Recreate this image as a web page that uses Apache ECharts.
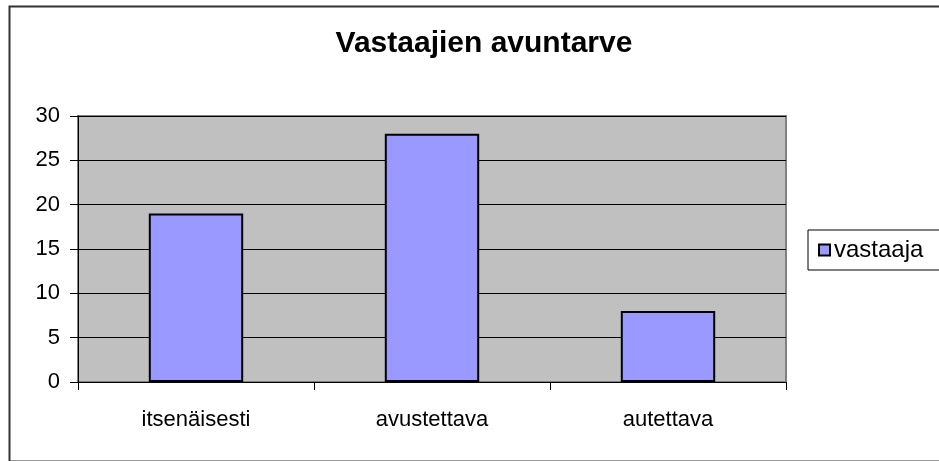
<!DOCTYPE html>
<html>
<head>
<meta charset="utf-8">
<script src="https://cdn.jsdelivr.net/npm/echarts@6/dist/echarts.min.js"></script>
<style>
  html, body { margin: 0; padding: 0; background: #fff; }
  #chart { width: 939px; height: 461px; }
</style>
</head>
<body>
<div id="chart"></div>
<script>
var categories = ['itsenäisesti', 'avustettava', 'autettava'];
var values = [19, 28, 8];
var seriesName = 'vastaaja';
var yTicks = { min: 0, max: 30, interval: 5 };

var myChart = echarts.init(document.getElementById('chart'));
myChart.setOption({
    backgroundColor: '#fff',
    animation: false,
    title: {
        text: 'Vastaajien avuntarve',
        left: 479,
        top: 24,
        textAlign: 'center',
        textStyle: {
            fontFamily: 'Liberation Sans',
            fontWeight: 'bold',
            fontSize: 30,
            color: '#000'
        }
    },
    graphic: {
        elements: [{
            type: 'rect',
            left: 7,
            top: 4,
            shape: { width: 945, height: 455 },
            style: { fill: 'none', stroke: '#333', lineWidth: 2 },
            silent: true
        }]
    },
    legend: {
        left: 808,
        top: 230,
        orient: 'vertical',
        data: [seriesName],
        icon: 'rect',
        itemWidth: 11,
        itemHeight: 11,
        itemGap: 6,
        padding: [8, 40, 8, 10],
        borderColor: '#000',
        borderWidth: 1,
        backgroundColor: '#fff',
        itemStyle: { borderColor: '#000', borderWidth: 2 },
        textStyle: { fontFamily: 'Liberation Sans', fontSize: 24, color: '#000', padding: [0, 0, 0, -1] }
    },
    grid: {
        left: 78,
        right: 153,
        top: 116,
        bottom: 79,
        show: true,
        backgroundColor: '#c0c0c0',
        borderColor: '#808080',
        borderWidth: 2
    },
    xAxis: {
        type: 'category',
        data: categories,
        axisLine: { lineStyle: { color: '#000', width: 1 } },
        axisTick: { show: true, alignWithLabel: false, length: 8, lineStyle: { color: '#000' } },
        axisLabel: { fontFamily: 'Liberation Sans', fontSize: 22, color: '#000', margin: 27 }
    },
    yAxis: {
        type: 'value',
        min: yTicks.min,
        max: yTicks.max,
        interval: yTicks.interval,
        axisLine: { show: true, lineStyle: { color: '#000', width: 1 } },
        axisTick: { show: true, length: 8, lineStyle: { color: '#000' } },
        axisLabel: { fontFamily: 'Liberation Sans', fontSize: 22, color: '#000', margin: 18 },
        splitLine: { show: true, lineStyle: { color: '#000', width: 1 } }
    },
    series: [{
        name: seriesName,
        type: 'bar',
        data: values,
        barWidth: '40%',
        itemStyle: { color: '#9999ff', borderColor: '#000', borderWidth: 2 }
    }]
});
</script>
</body>
</html>
